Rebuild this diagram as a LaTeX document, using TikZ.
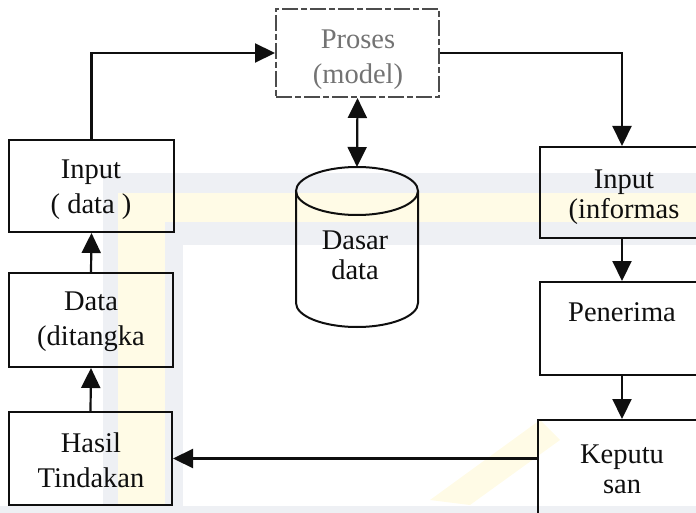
\documentclass[tikz,border=0pt]{standalone}
\usepackage{fontspec}
\setmainfont{Liberation Serif}
\usetikzlibrary{arrows.meta}
\definecolor{wmgray}{RGB}{238,240,244}
\definecolor{wmyellow}{RGB}{255,251,230}
\definecolor{ink}{RGB}{15,15,15}
\begin{document}
\begin{tikzpicture}[x=1pt,y=-1pt,
  box/.style={draw=ink, line width=2pt, rectangle, inner sep=0pt, fill=none},
  lbl/.style={font=\fontsize{28.5}{35}\selectfont, align=center, inner sep=0pt, text=ink},
  lblr/.style={lbl, font=\fontsize{28.5}{30}\selectfont},
  arr/.style={draw=ink, line width=2.2pt, -{Triangle[length=20pt,width=19pt]}},
  ]
\useasboundingbox (0,0) rectangle (696,513);
\clip (0,0) rectangle (696,513);
% faint watermark of the scan
\fill[wmgray] (103,173) rectangle (696,193);
\fill[wmgray] (103,173) rectangle (118,513);
\fill[wmyellow] (118,193) rectangle (696,222);
\fill[wmyellow] (118,193) rectangle (165,513);
\fill[wmgray] (165,222) rectangle (696,245);
\fill[wmgray] (165,222) rectangle (183,513);
\fill[wmgray] (0,506) rectangle (696,513);
\fill[wmyellow] (430,500) -- (540,420) -- (560,440) -- (470,505) -- cycle;

% boxes
\node[box, minimum width=165pt, minimum height=92pt] (in1) at (91.5,186) {};
\node[box, minimum width=164pt, minimum height=94pt] (dat) at (91,320) {};
\node[box, minimum width=163pt, minimum height=93pt] (has) at (90.5,458.5) {};
\node[box, draw=black!70, dash pattern=on 16pt off 3pt on 6pt off 3pt, minimum width=163pt, minimum height=88pt] (pro) at (357.5,53) {};
\node[box, minimum width=164pt, minimum height=91pt] (in2) at (622,192.5) {};
\node[box, minimum width=164pt, minimum height=93pt] (pen) at (622,328.5) {};
\node[box, minimum width=166pt, minimum height=95pt] (kep) at (621,467.5) {};

% texts
\node[lbl] (in1t) at (91,190) {Input\\( data )};
\node[lbl] (datt) at (91,322) {Data\\(ditangka};
\node[lbl] (hast) at (91,460) {Hasil\\Tindakan};
\node[lbl, text=black!55] (prot) at (358,60) {Proses\\(model)};
\node[lblr] (in2t) at (624,197) {Input\\(informas};
\node[lblr] (pent) at (622,312) {Penerima};
\node[lblr] (kept) at (622,469) {Keputu\\san};

% database cylinder
\draw[draw=ink, line width=2pt] (357,191) ellipse [x radius=61, y radius=24];
\draw[draw=ink, line width=2pt] (296,191) -- (296,303)
   arc[start angle=180, end angle=0, x radius=61, y radius=24] -- (418,191);
\coordinate (dbtop) at (357,167);
\node[lblr] (db) at (355,255) {Dasar\\data};

% connectors
\draw[arr] (in1.north) |- (pro.west);
\draw[arr] (pro.east) -| (in2.north);
\draw[draw=ink, line width=2.2pt, {Triangle[length=20pt,width=19pt]}-{Triangle[length=20pt,width=19pt]}] (pro.south) -- (dbtop);
\draw[arr] (dat.north) -- (in1.south);
\draw[arr] (has.north) -- (dat.south);
\draw[arr] (in2.south) -- (pen.north);
\draw[arr] (pen.south) -- (pen.south |- kep.north);
\draw[arr] (kep.west |- has.east) -- (has.east);
\end{tikzpicture}
\end{document}
